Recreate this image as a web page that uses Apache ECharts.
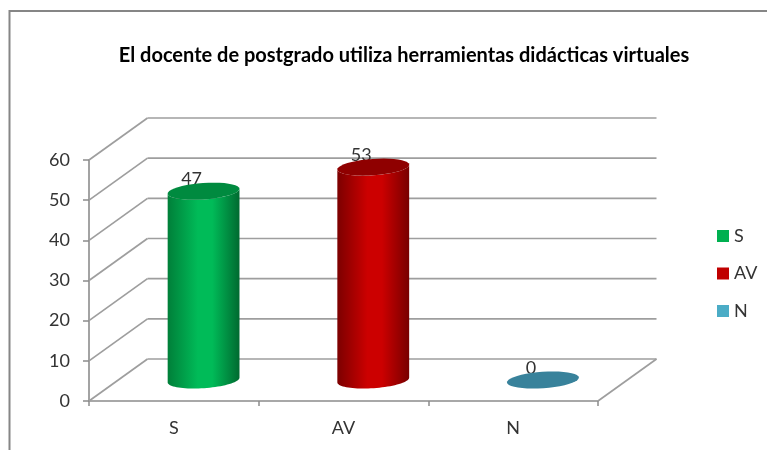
<!DOCTYPE html>
<html><head><meta charset="utf-8">
<script src="https://cdn.jsdelivr.net/npm/echarts@6/dist/echarts.min.js"></script>
<style>html,body{margin:0;padding:0;background:#fff}#c{width:767px;height:450px}</style>
</head><body><div id="c"></div>
<script>
const chartTitle = 'El docente de postgrado utiliza herramientas didácticas virtuales';
const categories = ['S', 'AV', 'N'];
const values = [47, 53, 0];
const yTicks = [0, 10, 20, 30, 40, 50, 60];

const legendColors = ['#00b050', '#c00000', '#4bacc6'];
const sideDark = [['#007f39', '#006a30'], ['#7c0000', '#780000'], ['#38829b', '#38829b']];
const sideLight = ['#00bb58', '#cc0000', '#38829b'];
const topColors = ['#008a3f', '#8f0000', '#38829b'];
const depth = [58.5, -42];
const RX = 36, RY = 8.2, TILT = 4 * Math.PI / 180;
const FONT = 'Lato';
const TEXT = '#333333';

function arc(cx, cy, from, to) {
  const pts = [];
  for (let i = 0; i <= 40; i++) {
    const t = from + (to - from) * i / 40;
    const x = RX * Math.cos(t), y = RY * Math.sin(t);
    pts.push([cx + x * Math.cos(TILT) + y * Math.sin(TILT), cy - x * Math.sin(TILT) + y * Math.cos(TILT)]);
  }
  return pts;
}

function cylinder(idx) {
  return function (params, api) {
    const base = api.coord([api.value(0), 0]);
    const top = api.coord([api.value(0), api.value(1)]);
    const cx = base[0] + depth[0] / 2 + 0.5;
    const by = base[1] + depth[1] / 2;
    const ty = top[1] + depth[1] / 2;
    const children = [{
      type: 'text',
      style: {
        text: String(api.value(1)), x: cx - 12, y: ty - 12,
        align: 'center', verticalAlign: 'middle',
        font: '18px ' + FONT, fill: TEXT
      }
    }];
    if (api.value(1) > 0) {
      children.push({
        type: 'polygon',
        shape: { points: arc(cx, by, Math.PI, 0).concat(arc(cx, ty, 0, Math.PI)) },
        style: {
          fill: new echarts.graphic.LinearGradient(0, 0, 1, 0, [
            { offset: 0, color: sideDark[idx][0] },
            { offset: 0.42, color: sideLight[idx] },
            { offset: 0.62, color: sideLight[idx] },
            { offset: 1, color: sideDark[idx][1] }
          ])
        }
      });
    }
    children.push({
      type: 'polygon',
      shape: { points: arc(cx, ty, 0, 2 * Math.PI) },
      style: { fill: topColors[idx] }
    });
    return { type: 'group', children };
  };
}

const wallStyle = { stroke: '#9e9e9e', lineWidth: 1.7, fill: 'none' };

function wallLines(params, api) {
  const v = api.value(1);
  const y = api.coord([0, v])[1];
  const x0 = params.coordSys.x;
  const x1 = x0 + params.coordSys.width;
  const children = [
    { type: 'line', shape: { x1: x0, y1: y, x2: x0 + depth[0], y2: y + depth[1] }, style: wallStyle },
    { type: 'line', shape: { x1: x0 + depth[0], y1: y + depth[1], x2: x1 + depth[0], y2: y + depth[1] }, style: wallStyle }
  ];
  if (v === 0) {
    children.push({ type: 'line', shape: { x1: x1, y1: y, x2: x1 + depth[0], y2: y + depth[1] }, style: wallStyle });
  }
  return { type: 'group', children };
}

const series = [{
  name: 'walls', type: 'custom', coordinateSystem: 'cartesian2d', z: 1, silent: true,
  data: yTicks.map(v => [0, v]), encode: { x: 0, y: 1 }, renderItem: wallLines
}];
categories.forEach((c, i) => series.push({
  name: c, type: 'custom', coordinateSystem: 'cartesian2d', z: 3,
  itemStyle: { color: legendColors[i] },
  data: [[i, values[i]]], encode: { x: 0, y: 1 }, renderItem: cylinder(i)
}));

const chart = echarts.init(document.getElementById('c'), null, { renderer: 'canvas' });
chart.setOption({
  animation: false,
  backgroundColor: '#ffffff',
  textStyle: { fontFamily: FONT },
  title: {
    text: chartTitle, left: 399, top: 41, textAlign: 'center',
    textStyle: { fontFamily: FONT, fontSize: 20, fontWeight: 'bold', color: '#000000' }
  },
  legend: {
    data: categories, orient: 'vertical', left: 717, top: 227, padding: 0, itemGap: 19.5,
    itemWidth: 12, itemHeight: 12, icon: 'rect',
    textStyle: { fontFamily: FONT, fontSize: 18, color: TEXT }
  },
  grid: { left: 89, right: 169, top: 160, bottom: 49 },
  xAxis: {
    type: 'category', data: categories, boundaryGap: true,
    axisLine: { lineStyle: { color: '#8c8c8c', width: 1.6 } },
    axisTick: { show: true, length: 5, lineStyle: { color: '#8c8c8c', width: 1.5 } },
    axisLabel: { color: TEXT, fontSize: 18, fontFamily: FONT, margin: 18 }
  },
  yAxis: {
    type: 'value', min: 0, max: 60, interval: 10,
    axisLine: { show: true, lineStyle: { color: '#8c8c8c', width: 1.6 } },
    axisTick: { show: true, length: 6, lineStyle: { color: '#8c8c8c', width: 1.5 } },
    splitLine: { show: false },
    axisLabel: { color: TEXT, fontSize: 18, fontFamily: FONT, margin: 19 }
  },
  graphic: [{
    type: 'polyline', silent: true,
    shape: { points: [[9.5, 450], [9.5, 11], [767, 11]] },
    style: { stroke: '#868686', lineWidth: 2, fill: 'none' }
  }],
  series
});
</script></body></html>
